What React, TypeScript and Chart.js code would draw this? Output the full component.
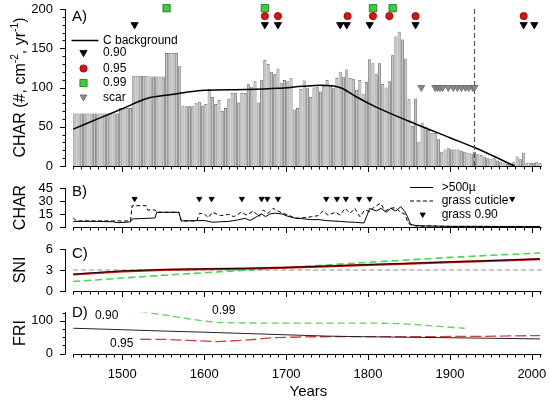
import React, { useEffect, useRef } from 'react';
import { Chart, registerables } from 'chart.js';

Chart.register(...registerables);

const FONT = "'Liberation Sans', Arial, Helvetica, sans-serif";
Chart.defaults.font.family = FONT;

// ---------- shared x axis ----------
const X_MIN = 1430;
const X_MAX = 2013;
const X_AXIS_START = 1440;
const X_AXIS_END = 2012;
const X_TICK_STEP = 10;
const X_MAJOR_STEP = 100;
const X_TICK_VALUES = [1500, 1600, 1700, 1800, 1900, 2000];
const X_TICK_LABELS = ['1500', '1600', '1700', '1800', '1900', '2000'];

// ---------- panel A : charcoal accumulation ----------
const A_BIN_START = 1440;
const A_BIN_WIDTH = 4;
const A_CHAR = [
  67, 67, 67, 67, 67, 67, 67, 67, 67, 67, 67, 67, 67, 67,
  74, 74, 74, 74,
  115, 115, 115, 115, 115,
  114, 114, 114, 114, 114,
  144, 144, 144, 144,
  127,
  76, 76, 76, 76,
  80, 82, 77, 79, 98, 88, 79, 84, 70, 74, 86, 93, 93, 81, 93, 93, 104, 101, 108, 81,
  110, 135, 130, 120, 117, 124, 106, 109.5, 108, 111.7,
  72, 74, 98, 109, 99, 88, 100, 101, 95, 102, 109.5, 102, 99, 112, 120, 113, 123, 112,
  111, 97, 109.5, 92, 107, 136, 131, 117, 131, 104.5, 100, 108, 141, 165, 171, 161, 137,
  85, 51, 86, 31, 55, 50, 46, 42, 42, 34, 18, 21, 22.5, 21, 21, 21, 19.5, 18, 17, 16, 18,
  15, 14, 12, 10, 8.5, 10, 7, 5.5, 3.5, 2.5, 2, 5.5, 12, 8.5, 17, 4, 4, 4, 5.5, 3.5,
];
const A_BG_YEARS = [1440, 1470, 1500, 1530, 1560, 1583, 1600, 1650, 1690, 1720, 1742, 1756, 1768, 1785, 1808, 1850, 1900, 1930, 1979];
const A_BG_VALUES = [47, 60, 73, 86, 91, 94.7, 96.5, 97.5, 99, 101.5, 103, 102.3, 99, 88.5, 76, 57, 36, 23.5, 0];
const A_PEAK_090 = [1515, 1674, 1690, 1766, 1774, 1802, 1858, 1990, 2003];
const A_PEAK_095 = [1674, 1690, 1775, 1806, 1826, 1858, 1990];
const A_PEAK_099 = [1554, 1674, 1806, 1830];
const A_SCARS = [1865, 1882, 1885, 1888, 1891, 1898, 1904, 1909, 1914, 1919, 1923, 1928, 1930];
const A_ROW_090 = 180;
const A_ROW_095 = 191;
const A_ROW_099 = 201;
const A_ROW_SCAR = 100;
const A_SCAR_END_YEAR = 1930;
const A_Y_MIN = 0;
const A_Y_MAX = 200;
const A_Y_TICKS = [0, 50, 100, 150, 200];
const A_Y_MINOR = [10, 20, 30, 40, 60, 70, 80, 90, 110, 120, 130, 140, 160, 170, 180, 190];

// ---------- panel B : >500µ and grass cuticle ----------
const B_SOLID_YEARS = [1440, 1470, 1488, 1495, 1505, 1510, 1512, 1525, 1540, 1542, 1569, 1572, 1600, 1605, 1610, 1620, 1630, 1640, 1650, 1656, 1665, 1670, 1675, 1680, 1686, 1695, 1700, 1710, 1720, 1730, 1740, 1750, 1765, 1775, 1785, 1795, 1799, 1802, 1810, 1816, 1822, 1828, 1834, 1840, 1845, 1848, 1852, 1858, 1870, 1885, 1900, 1930, 1960, 1990, 2010];
const B_SOLID = [6.5, 6.5, 6, 5, 5.5, 6, 9.3, 9.8, 10.4, 17, 17, 7, 7.5, 6.5, 5.5, 6, 6.5, 8, 10, 7.5, 12.5, 15, 12, 15, 16, 15, 13, 10.4, 9.6, 8.5, 8.5, 7.3, 6.5, 5.8, 5.4, 4.6, 14, 21.5, 18.5, 21.5, 17, 21.5, 18.5, 23.5, 17.7, 12, 3, 1.8, 1.2, 1, 0.8, 0.8, 0.6, 0.7, 0.5];
const B_CUTICLE_YEARS = [1440, 1444, 1510, 1512, 1529, 1531, 1540, 1542, 1569, 1572, 1591, 1594, 1600, 1605, 1610, 1620, 1630, 1636, 1645, 1652, 1660, 1667, 1672, 1678, 1684, 1690, 1696, 1703, 1711, 1723, 1731, 1739, 1745, 1751, 1760, 1766, 1772, 1778, 1784, 1790, 1796, 1802, 1808, 1815, 1821, 1827, 1833, 1839, 1845, 1849, 1853, 1861, 1872, 1878, 1885, 1900, 1930, 1970, 2010];
const B_CUTICLE = [10.5, 7, 7, 24.6, 24.6, 19.6, 19.6, 17, 17, 7, 7, 15.8, 15, 10.8, 16.9, 13.1, 14.6, 11.9, 16.9, 13.8, 18.5, 11.9, 19.6, 15.8, 21.5, 18.5, 15.8, 13.8, 10, 10.8, 11.9, 13.1, 18.5, 13.8, 16.9, 13.8, 21.5, 15.8, 21.5, 11.9, 19.6, 17.7, 23.5, 27.3, 18.5, 21.5, 22.3, 17.7, 14.6, 4.6, 1.9, 0.8, 1.2, 1.5, 0.8, 0.6, 0.7, 0.5, 0.5];
const B_GRASS_PEAKS = [1515, 1594, 1609, 1646, 1670, 1677, 1690, 1749, 1762, 1773, 1789, 1802, 1976];
const B_ROW_PEAK = 32.5;
const B_Y_MIN = 0;
const B_Y_MAX = 45;
const B_Y_TICKS = [0, 15, 30, 45];

// ---------- panel C : SNI ----------
const C_YEARS = [1440, 1500, 1550, 1600, 1650, 1700, 1750, 1800, 1850, 1900, 1950, 2010];
const C_SNI_090 = [2.42, 2.87, 3.07, 3.17, 3.24, 3.37, 3.57, 3.77, 3.96, 4.16, 4.35, 4.59];
const C_SNI_095 = [2.36, 2.8, 3.02, 3.12, 3.2, 3.33, 3.53, 3.73, 3.92, 4.12, 4.31, 4.55];
const C_SNI_099 = [1.35, 1.85, 2.25, 2.6, 2.98, 3.35, 3.72, 4.1, 4.45, 4.8, 5.1, 5.42];
const C_THRESHOLD = 3;
const C_Y_MIN = 0;
const C_Y_MAX = 6;
const C_Y_TICKS = [0, 3, 6];

// ---------- panel D : FRI ----------
const D_090_YEARS = [1440, 1500, 1550, 1600, 1650, 1700, 1750, 1800, 1850, 1900, 1950, 2010];
const D_090 = [77, 72.5, 68.5, 65, 61, 57, 53, 51, 49.5, 48, 46.5, 44.5];
const D_095_YEARS = [1522, 1550, 1580, 1615, 1650, 1686, 1730, 1800, 1850, 1930, 2010];
const D_095 = [43.5, 43, 40, 36, 40.5, 48.5, 51, 51.5, 51.5, 52, 54.6];
const D_099_YEARS = [1522, 1550, 1580, 1615, 1650, 1700, 1800, 1830, 1860, 1890, 1918];
const D_099 = [128, 118, 106, 94.5, 93, 92.6, 92.6, 92, 88, 82, 77];
const D_Y_MIN = 0;
const D_Y_MAX = 125;
const D_Y_TICKS = [0, 100];
const D_Y_MINOR = [25, 50, 75, 125];

// ---------- helpers ----------
const pts = (xs: number[], ys: number[]) => xs.map((x, i) => ({ x, y: ys[i] }));
const row = (xs: number[], y: number) => xs.map((x) => ({ x, y }));

function text(ctx: CanvasRenderingContext2D, s: string, x: number, y: number, size: number, align: CanvasTextAlign = 'left') {
  ctx.font = `${size}px ${FONT}`;
  ctx.fillStyle = '#000';
  ctx.textAlign = align;
  ctx.textBaseline = 'middle';
  ctx.fillText(s, x, y);
}

function tri(ctx: CanvasRenderingContext2D, x: number, y: number, r: number, fill: string, stroke: string) {
  ctx.beginPath();
  ctx.moveTo(x - r * 0.866, y - r / 2);
  ctx.lineTo(x + r * 0.866, y - r / 2);
  ctx.lineTo(x, y + r);
  ctx.closePath();
  ctx.fillStyle = fill;
  ctx.fill();
  ctx.strokeStyle = stroke;
  ctx.lineWidth = 0.8;
  ctx.setLineDash([]);
  ctx.stroke();
}

function circle(ctx: CanvasRenderingContext2D, x: number, y: number, r: number, fill: string, stroke: string) {
  ctx.beginPath();
  ctx.arc(x, y, r, 0, Math.PI * 2);
  ctx.fillStyle = fill;
  ctx.fill();
  ctx.strokeStyle = stroke;
  ctx.lineWidth = 0.8;
  ctx.setLineDash([]);
  ctx.stroke();
}

function square(ctx: CanvasRenderingContext2D, x: number, y: number, h: number, fill: string, stroke: string) {
  ctx.beginPath();
  ctx.rect(x - h, y - h, 2 * h, 2 * h);
  ctx.fillStyle = fill;
  ctx.fill();
  ctx.strokeStyle = stroke;
  ctx.lineWidth = 0.8;
  ctx.setLineDash([]);
  ctx.stroke();
}

function hline(ctx: CanvasRenderingContext2D, x1: number, x2: number, y: number, width: number, dash: number[]) {
  ctx.beginPath();
  ctx.strokeStyle = '#000';
  ctx.lineWidth = width;
  ctx.setLineDash(dash);
  ctx.moveTo(x1, y);
  ctx.lineTo(x2, y);
  ctx.stroke();
  ctx.setLineDash([]);
}

type Part = { t: string; sup?: boolean };

function drawRotatedTitle(ctx: CanvasRenderingContext2D, parts: Part[], cx: number, cy: number, size: number) {
  const supSize = size * 0.64;
  const widths = parts.map((p) => {
    ctx.font = `${p.sup ? supSize : size}px ${FONT}`;
    return ctx.measureText(p.t).width;
  });
  const total = widths.reduce((a, b) => a + b, 0);
  ctx.save();
  ctx.translate(cx, cy);
  ctx.rotate(-Math.PI / 2);
  ctx.fillStyle = '#000';
  ctx.textAlign = 'left';
  ctx.textBaseline = 'alphabetic';
  const base = size * 0.36;
  let x = -total / 2;
  parts.forEach((p, i) => {
    ctx.font = `${p.sup ? supSize : size}px ${FONT}`;
    ctx.fillText(p.t, x, p.sup ? base - size * 0.42 : base);
    x += widths[i];
  });
  ctx.restore();
}

interface PanelSpec {
  key: string;
  top: number;
  height: number;
  padTop: number;
  padBottom: number;
  yMin: number;
  yMax: number;
  yTicks: number[];
  yMinor: number[];
  title: Part[];
  type: 'bar' | 'line';
  datasets: any[];
  decorate: (ctx: CanvasRenderingContext2D, chart: any) => void;
}

function decoPlugin(spec: PanelSpec) {
  return {
    id: 'deco_' + spec.key,
    afterDraw(chart: any) {
      const ctx: CanvasRenderingContext2D = chart.ctx;
      const area = chart.chartArea;
      const xs = chart.scales.x;
      const ys = chart.scales.y;
      ctx.save();
      ctx.setLineDash([]);
      ctx.strokeStyle = '#000';
      ctx.lineWidth = 1;
      const by = Math.round(area.bottom) + 0.5;
      ctx.beginPath();
      ctx.moveTo(xs.getPixelForValue(X_AXIS_START), by);
      ctx.lineTo(xs.getPixelForValue(X_AXIS_END), by);
      for (let yr = X_AXIS_START; yr <= X_AXIS_END; yr += X_TICK_STEP) {
        const px = Math.round(xs.getPixelForValue(yr)) + 0.5;
        ctx.moveTo(px, by);
        ctx.lineTo(px, by + (yr % X_MAJOR_STEP === 0 ? 5.5 : 3));
      }
      const lx = Math.round(area.left) + 0.5;
      spec.yTicks.forEach((v) => {
        const py = Math.round(ys.getPixelForValue(v)) + 0.5;
        ctx.moveTo(lx, py);
        ctx.lineTo(lx - 5.5, py);
      });
      spec.yMinor.forEach((v) => {
        const py = Math.round(ys.getPixelForValue(v)) + 0.5;
        ctx.moveTo(lx, py);
        ctx.lineTo(lx - 3, py);
      });
      ctx.stroke();
      spec.yTicks.forEach((v) => {
        text(ctx, String(v), area.left - 12, ys.getPixelForValue(v), 13, 'right');
      });
      drawRotatedTitle(ctx, spec.title, 19, (area.top + area.bottom) / 2, 16);
      spec.decorate(ctx, chart);
      ctx.restore();
    },
  };
}

function buildConfig(spec: PanelSpec): any {
  return {
    type: spec.type,
    data: { datasets: spec.datasets },
    options: {
      responsive: false,
      maintainAspectRatio: false,
      animation: false,
      events: [],
      layout: { padding: { left: 0, right: 7.5, top: spec.padTop, bottom: spec.padBottom } },
      plugins: { legend: { display: false }, tooltip: { enabled: false }, title: { display: false } },
      scales: {
        x: { type: 'linear', min: X_MIN, max: X_MAX, display: false, offset: false },
        y: {
          type: 'linear',
          min: spec.yMin,
          max: spec.yMax,
          afterFit: (s: any) => {
            s.width = 65;
            s.paddingTop = 0;
            s.paddingBottom = 0;
          },
          afterBuildTicks: (s: any) => {
            s.ticks = spec.yTicks.map((v) => ({ value: v }));
          },
          grid: { display: false, drawTicks: false },
          border: { display: true, color: '#000', width: 1 },
          ticks: { display: false },
        },
      },
    },
    plugins: [decoPlugin(spec)],
  };
}

const RED = '#e01010';
const RED_EDGE = '#7a0000';
const GREEN = '#3ccc3c';
const GREEN_EDGE = '#1a6e1a';
const SCAR_FILL = '#8c8c8c';
const SCAR_EDGE = '#666666';

const markerSet = (data: any[], style: string, radius: number, fill: string, edge: string, rotation = 0) => ({
  type: 'line',
  data,
  showLine: false,
  pointStyle: style,
  pointRadius: radius,
  pointRotation: rotation,
  pointBackgroundColor: fill,
  pointBorderColor: edge,
  pointBorderWidth: 0.8,
  clip: false,
  order: 0,
});

const lineSet = (data: any[], color: string, width: number, dash: number[], order = 1, extra: any = {}) => ({
  type: 'line',
  data,
  borderColor: color,
  borderWidth: width,
  borderDash: dash,
  pointRadius: 0,
  fill: false,
  tension: 0,
  order,
  ...extra,
});

const PANEL_A: PanelSpec = {
  key: 'A',
  top: 0,
  height: 180,
  padTop: 9,
  padBottom: 14,
  yMin: A_Y_MIN,
  yMax: A_Y_MAX,
  yTicks: A_Y_TICKS,
  yMinor: A_Y_MINOR,
  title: [{ t: 'CHAR (#, cm' }, { t: '-2', sup: true }, { t: ', yr' }, { t: '-1', sup: true }, { t: ')' }],
  type: 'bar',
  datasets: [
    markerSet(row(A_PEAK_099, A_ROW_099), 'rect', 5.2, GREEN, GREEN_EDGE),
    markerSet(row(A_PEAK_095, A_ROW_095), 'circle', 3.6, RED, RED_EDGE),
    markerSet(row(A_PEAK_090, A_ROW_090), 'triangle', 4.2, '#000', '#000', 180),
    markerSet(row(A_SCARS, A_ROW_SCAR), 'triangle', 4, SCAR_FILL, SCAR_EDGE, 180),
    lineSet(pts([A_SCAR_END_YEAR, A_SCAR_END_YEAR], [A_Y_MIN, A_Y_MAX]), '#555', 1.2, [5, 3], 1),
    lineSet(pts(A_BG_YEARS, A_BG_VALUES), '#000', 1.5, [], 2, { cubicInterpolationMode: 'monotone' }),
    {
      type: 'bar',
      data: A_CHAR.map((v, i) => ({ x: A_BIN_START + A_BIN_WIDTH * (i + 0.5), y: v })),
      backgroundColor: '#c4c4c4',
      borderColor: '#555555',
      borderWidth: 0.75,
      barPercentage: 0.92,
      categoryPercentage: 1,
      order: 10,
    },
  ],
  decorate: (ctx) => {
    text(ctx, 'A)', 72, 17, 15);
    hline(ctx, 71.5, 98.5, 40.5, 1.5, []);
    text(ctx, 'C background', 103, 40.5, 12);
    tri(ctx, 83.5, 52.5, 4.2, '#000', '#000');
    text(ctx, '0.90', 103, 53, 12);
    circle(ctx, 83.5, 68.5, 3.6, RED, RED_EDGE);
    text(ctx, '0.95', 103, 68.5, 12);
    square(ctx, 83.5, 83, 3.6, GREEN, GREEN_EDGE);
    text(ctx, '0.99', 103, 83, 12);
    tri(ctx, 83.5, 97, 4, SCAR_FILL, SCAR_EDGE);
    text(ctx, 'scar', 103, 97.5, 12);
  },
};

const PANEL_B: PanelSpec = {
  key: 'B',
  top: 180,
  height: 60,
  padTop: 8,
  padBottom: 13,
  yMin: B_Y_MIN,
  yMax: B_Y_MAX,
  yTicks: B_Y_TICKS,
  yMinor: [],
  title: [{ t: 'CHAR' }],
  type: 'line',
  datasets: [
    markerSet(row(B_GRASS_PEAKS, B_ROW_PEAK), 'triangle', 3, '#000', '#000', 180),
    lineSet(pts(B_SOLID_YEARS, B_SOLID), '#000', 1, [], 1),
    lineSet(pts(B_CUTICLE_YEARS, B_CUTICLE), '#000', 1, [4, 2.5], 2),
  ],
  decorate: (ctx) => {
    text(ctx, 'B)', 72, 12, 15);
    hline(ctx, 410, 433, 7.5, 1, []);
    text(ctx, '>500µ', 441.7, 7.5, 12);
    hline(ctx, 410, 433, 21, 1, [4, 2.5]);
    text(ctx, 'grass cuticle', 441.7, 21, 12);
    tri(ctx, 422.7, 34.5, 3, '#000', '#000');
    text(ctx, 'grass 0.90', 441.7, 35, 12);
  },
};

const PANEL_C: PanelSpec = {
  key: 'C',
  top: 240,
  height: 60,
  padTop: 9,
  padBottom: 9,
  yMin: C_Y_MIN,
  yMax: C_Y_MAX,
  yTicks: C_Y_TICKS,
  yMinor: [],
  title: [{ t: 'SNI' }],
  type: 'line',
  datasets: [
    lineSet(pts(C_YEARS, C_SNI_090), '#000', 0.8, [], 0),
    lineSet(pts(C_YEARS, C_SNI_095), '#b81818', 2.2, [], 1),
    lineSet(pts(C_YEARS, C_SNI_099), '#4cd44c', 1.6, [7, 4], 2),
    lineSet(pts([X_AXIS_START, X_AXIS_END], [C_THRESHOLD, C_THRESHOLD]), '#8a8a8a', 1, [5, 3], 3),
  ],
  decorate: (ctx) => {
    text(ctx, 'C)', 72, 14, 15);
  },
};

const PANEL_D: PanelSpec = {
  key: 'D',
  top: 300,
  height: 102,
  padTop: 12.5,
  padBottom: 48.5,
  yMin: D_Y_MIN,
  yMax: D_Y_MAX,
  yTicks: D_Y_TICKS,
  yMinor: D_Y_MINOR,
  title: [{ t: 'FRI' }],
  type: 'line',
  datasets: [
    lineSet(pts(D_090_YEARS, D_090), '#222', 1, [], 0),
    lineSet(pts(D_095_YEARS, D_095), '#d04040', 1.3, [11, 4], 1),
    lineSet(pts(D_099_YEARS, D_099), '#5ad65a', 1.3, [7, 4], 2),
  ],
  decorate: (ctx, chart) => {
    const xs = chart.scales.x;
    text(ctx, 'D)', 72, 13, 15);
    text(ctx, '0.90', 95, 16, 12);
    text(ctx, '0.99', 212, 11, 12);
    text(ctx, '0.95', 110, 44, 12);
    X_TICK_VALUES.forEach((v, i) => {
      text(ctx, X_TICK_LABELS[i], xs.getPixelForValue(v), 74.5, 13, 'center');
    });
    const mid = (xs.getPixelForValue(X_AXIS_START) + xs.getPixelForValue(X_AXIS_END)) / 2;
    text(ctx, 'Years', mid + 1, 91.5, 15, 'center');
  },
};

const PANELS = [PANEL_A, PANEL_B, PANEL_C, PANEL_D];

function Panel({ spec }: { spec: PanelSpec }) {
  const ref = useRef<HTMLCanvasElement>(null);
  useEffect(() => {
    if (!ref.current) return;
    const chart = new Chart(ref.current, buildConfig(spec));
    return () => chart.destroy();
  }, [spec]);
  return (
    <canvas
      ref={ref}
      width={550}
      height={spec.height}
      style={{ position: 'absolute', left: 0, top: spec.top, width: 550, height: spec.height, display: 'block' }}
    />
  );
}

export default function App() {
  return (
    <div style={{ position: 'fixed', left: 0, top: 0, width: 550, height: 402, background: '#fff', overflow: 'hidden' }}>
      {PANELS.map((p) => (
        <Panel key={p.key} spec={p} />
      ))}
    </div>
  );
}
